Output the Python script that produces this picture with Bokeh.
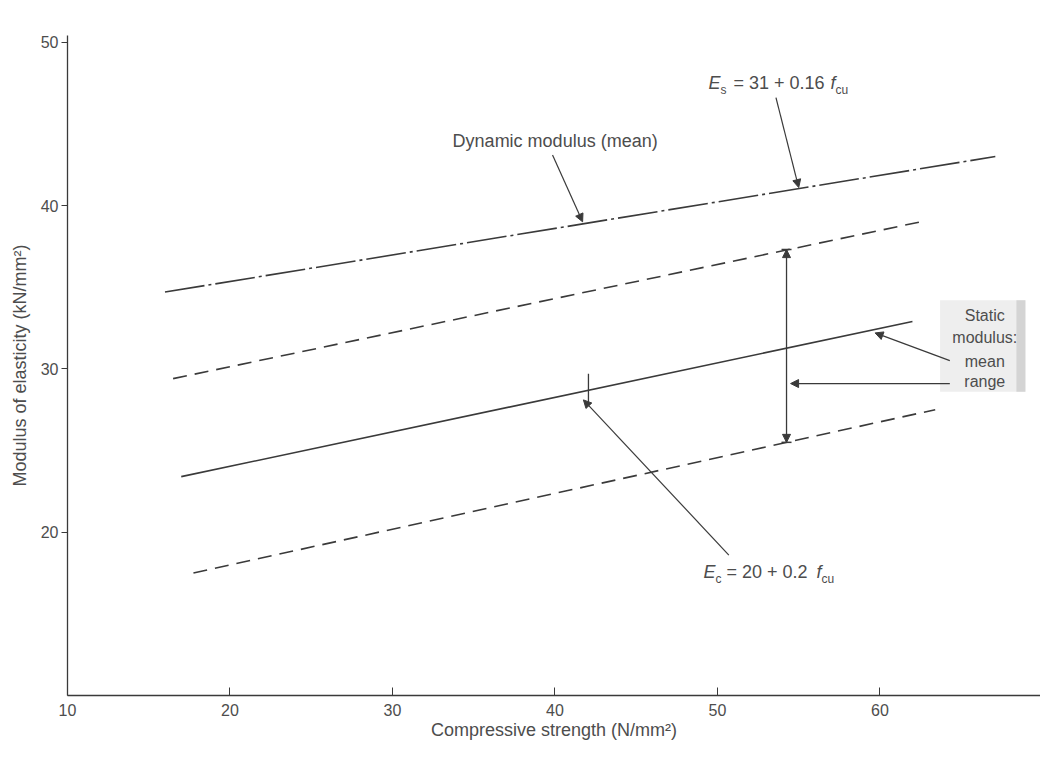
from bokeh.plotting import figure
from bokeh.models import Arrow, NormalHead, TeeHead, Label, FixedTicker, Range1d, BoxAnnotation
from bokeh.embed import file_html
from bokeh.resources import INLINE

# ---- data ----
dyn_mean_strength = [16.0, 67.1]
dyn_mean_modulus = [34.7, 43.0]
upper_range_strength = [16.5, 62.5]
upper_range_modulus = [29.4, 39.0]
static_mean_strength = [17.0, 62.0]
static_mean_modulus = [23.4, 32.9]
lower_range_strength = [17.75, 63.4]
lower_range_modulus = [17.5, 27.5]
range_strength = 54.25
range_top = 37.3
range_bottom = 25.5
marker_strength = [42.06, 42.06]
marker_modulus = [29.7, 27.9]
x_ticks = [10, 20, 30, 40, 50, 60]
y_ticks = [20, 30, 40, 50]

INK = "#3a3a3a"
TXT = "#4d4d4d"
FONT = "Liberation Sans"

p = figure(width=1040, height=753, output_backend="svg", toolbar_location=None,
           x_range=Range1d(10, 69.88), y_range=Range1d(10, 50.41),
           min_border_left=67, min_border_right=0, min_border_top=35, min_border_bottom=58)
p.outline_line_color = None
p.grid.visible = False
p.background_fill_color = "white"

# axes
for ax in (p.xaxis, p.yaxis):
    ax.axis_line_color = INK
    ax.axis_line_width = 1.3
    ax.major_tick_line_color = INK
    ax.minor_tick_line_color = None
    ax.major_label_text_font = FONT
    ax.major_label_text_font_size = "16px"
    ax.major_label_text_color = TXT
    ax.axis_label_text_font = FONT
    ax.axis_label_text_font_style = "normal"
    ax.axis_label_text_color = TXT
    ax.axis_label_text_font_size = "18px"

p.xaxis.ticker = FixedTicker(ticks=x_ticks)
p.xaxis.major_tick_in = 8
p.xaxis.major_tick_out = 0
p.xaxis.major_label_standoff = 8
p.xaxis.axis_label = "Compressive strength (N/mm²)"
p.xaxis.axis_label_standoff = 1

p.yaxis.ticker = FixedTicker(ticks=y_ticks)
p.yaxis.major_tick_in = 0
p.yaxis.major_tick_out = 6
p.yaxis.major_label_standoff = 3
p.yaxis.axis_label = "Modulus of elasticity (kN/mm²)"
p.yaxis.axis_label_standoff = 8

# lines
p.line(dyn_mean_strength, dyn_mean_modulus, line_color=INK, line_width=1.6, line_dash="40 4 3 4")
p.line(upper_range_strength, upper_range_modulus, line_color=INK, line_width=1.6, line_dash="14 8")
p.line(static_mean_strength, static_mean_modulus, line_color=INK, line_width=1.6)
p.line(lower_range_strength, lower_range_modulus, line_color=INK, line_width=1.6, line_dash="14 8")
p.line(marker_strength, marker_modulus, line_color=INK, line_width=1.3)

# range double arrow
p.segment(x0=[range_strength], y0=[range_bottom], x1=[range_strength], y1=[range_top],
          line_color=INK, line_width=1.3)
for y0, y1 in ((range_bottom, range_top), (range_top, range_bottom)):
    p.add_layout(Arrow(x_start=range_strength, y_start=(y0 + y1) / 2, x_end=range_strength, y_end=y1,
                       line_alpha=0, end=NormalHead(size=8, fill_color=INK, line_color=INK)))
    p.add_layout(Arrow(x_start=range_strength, y_start=(y0 + y1) / 2, x_end=range_strength, y_end=y1,
                       line_alpha=0, end=TeeHead(size=10, line_color=INK, line_width=1.5)))

# label box
p.add_layout(BoxAnnotation(left=63.7, right=68.95, bottom=28.6, top=34.2,
                           fill_color="#eeeeee", fill_alpha=1, line_color=None, level="underlay"))
p.add_layout(BoxAnnotation(left=68.4, right=68.95, bottom=28.6, top=34.2,
                           fill_color="#d4d4d4", fill_alpha=1, line_color=None, level="underlay"))

# pointers (start x, start y, end x, end y)
pointers = [
    (39.85, 43.1, 41.7, 39.0),   # dynamic modulus (mean)
    (53.6, 46.6, 55.0, 41.1),    # E_s
    (50.7, 18.6, 41.75, 28.1),   # E_c
    (64.3, 30.5, 59.7, 32.2),    # static mean
    (64.3, 29.1, 54.5, 29.1),    # static range
]
for xs, ys, xe, ye in pointers:
    p.add_layout(Arrow(x_start=xs, y_start=ys, x_end=xe, y_end=ye, line_color=INK, line_width=1.2,
                       end=NormalHead(size=8, fill_color=INK, line_color=INK)))


def lab(x, y, text, size="18px", style="normal", align="left", xo=0):
    p.add_layout(Label(x=x, y=y, text=text, text_font=FONT, text_font_size=size,
                       text_font_style=style, text_color=TXT, text_align=align,
                       text_baseline="middle", x_offset=xo))


lab(33.7, 43.94, "Dynamic modulus (mean)")

# E_s = 31 + 0.16 f_cu
lab(49.45, 47.5, "E", style="italic")
lab(49.45, 47.1, "s", size="12px", xo=12)
lab(49.45, 47.5, "= 31 + 0.16", xo=25)
lab(49.45, 47.5, "f", style="italic", xo=122)
lab(49.45, 47.1, "cu", size="12px", xo=127)

# E_c = 20 + 0.2 f_cu
lab(49.14, 17.55, "E", style="italic")
lab(49.14, 17.15, "c", size="12px", xo=12)
lab(49.14, 17.55, "= 20 + 0.2", xo=23)
lab(49.14, 17.55, "f", style="italic", xo=113)
lab(49.14, 17.15, "cu", size="12px", xo=118)

# static modulus labels
lab(66.45, 33.29, "Static", size="16px", align="center")
lab(66.45, 31.94, "modulus:", size="16px", align="center")
lab(66.45, 30.47, "mean", size="16px", align="center")
lab(66.45, 29.25, "range", size="16px", align="center")

open("out.html", "w").write(file_html(p, INLINE))
